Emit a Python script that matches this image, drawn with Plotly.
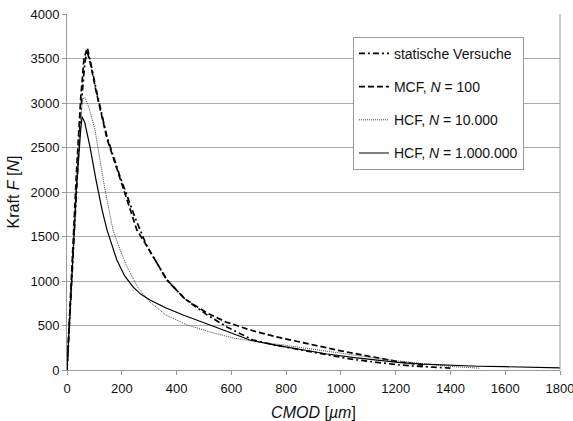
import plotly.graph_objects as go

# --- data ---
static_x = [0, 10, 20, 35, 50, 65, 75, 90, 110, 146, 194, 250, 292, 365, 430, 511, 584, 679, 760, 851, 940, 1033, 1120, 1216, 1300, 1400]
static_y = [0, 600, 1250, 2100, 2900, 3450, 3610, 3400, 3100, 2620, 2170, 1700, 1390, 1010, 800, 620, 483, 337, 280, 228, 175, 124, 90, 56, 38, 22]

mcf_x = [0, 10, 20, 35, 50, 62, 72, 85, 105, 146, 194, 255, 292, 365, 430, 511, 580, 668, 760, 851, 924, 1000, 1118, 1216, 1300]
mcf_y = [0, 650, 1350, 2250, 3050, 3500, 3600, 3450, 3150, 2600, 2150, 1574, 1390, 1012, 800, 641, 540, 450, 375, 315, 265, 215, 146, 90, 55]

hcf1_x = [0, 10, 20, 35, 50, 58, 66, 80, 102, 139, 168, 194, 219, 260, 303, 360, 438, 520, 606, 700, 789, 900, 1000, 1100, 1200, 1300, 1400, 1508]
hcf1_y = [0, 620, 1300, 2150, 2850, 3050, 3060, 2950, 2700, 2023, 1574, 1349, 1158, 920, 764, 620, 506, 430, 360, 315, 281, 230, 185, 145, 105, 70, 40, 20]

hcf2_x = [0, 10, 20, 35, 50, 55, 65, 84, 105, 128, 146, 168, 182, 210, 241, 270, 303, 360, 424, 522, 600, 668, 760, 851, 950, 1050, 1150, 1216, 1300, 1400, 1500, 1600, 1700, 1800]
hcf2_y = [0, 600, 1250, 2050, 2700, 2845, 2780, 2507, 2150, 1800, 1574, 1383, 1236, 1060, 933, 850, 787, 700, 618, 506, 420, 337, 280, 235, 180, 140, 105, 82, 65, 50, 42, 37, 30, 25]

names = ["statische Versuche", "MCF, <i>N</i> = 100", "HCF, <i>N</i> = 10.000", "HCF, <i>N</i> = 1.000.000"]
x_ticks = [0, 200, 400, 600, 800, 1000, 1200, 1400, 1600, 1800]
y_ticks = [0, 500, 1000, 1500, 2000, 2500, 3000, 3500, 4000]

FONT = "Liberation Sans, Arial, sans-serif"

fig = go.Figure()
fig.add_trace(go.Scatter(x=static_x, y=static_y, mode="lines", name=names[0], legendgroup="a",
                         line=dict(color="black", width=1.7, dash="6px,3px,2px,3px")))
fig.add_trace(go.Scatter(x=mcf_x, y=mcf_y, mode="lines", name=names[1], legendgroup="b",
                         line=dict(color="black", width=1.7, dash="6px,3px")))
fig.add_trace(go.Scatter(x=hcf1_x, y=hcf1_y, mode="lines", name=names[2], legendgroup="c",
                         line=dict(color="#444444", width=1, dash="1px,1px")))
fig.add_trace(go.Scatter(x=hcf2_x, y=hcf2_y, mode="lines", name=names[3], legendgroup="d",
                         line=dict(color="black", width=1.2)))

fig.update_layout(
    width=573, height=421,
    margin=dict(l=67, r=13, t=14, b=51, autoexpand=False),
    paper_bgcolor="white", plot_bgcolor="white",
    font=dict(family=FONT, size=13, color="#111111"),
    showlegend=True,
    legend=dict(x=0.58, y=0.936, xanchor="left", yanchor="top",
                bgcolor="white", bordercolor="#999999", borderwidth=1,
                font=dict(size=14), tracegroupgap=12, itemwidth=30),
    xaxis=dict(range=[0, 1800], tickvals=x_ticks, showgrid=False, zeroline=False,
               showline=True, linecolor="#999999", mirror=False, automargin=False,
               ticks="outside", ticklen=4, tickcolor="#999999", ticklabeloverflow="allow",
               ticklabelstandoff=2,
               title=dict(text="<i>CMOD</i> [<i>µm</i>]", font=dict(size=16), standoff=12)),
    yaxis=dict(range=[0, 4000], tickvals=y_ticks, showgrid=True, gridcolor="#aaaaaa", gridwidth=1,
               zeroline=False, showline=True, linecolor="#999999", automargin=False,
               ticks="outside", ticklen=4, tickcolor="#999999", ticklabeloverflow="allow",
               title=dict(text="Kraft <i>F</i> [<i>N</i>]", font=dict(size=16), standoff=6)),
)
# right border of plot area
fig.add_shape(type="line", xref="paper", yref="paper", x0=1, x1=1, y0=0, y1=1,
              line=dict(color="#999999", width=1))

fig.write_html("out.html", config={"displayModeBar": False},
               post_script="document.body.style.margin='0';document.body.style.overflow='hidden';")
